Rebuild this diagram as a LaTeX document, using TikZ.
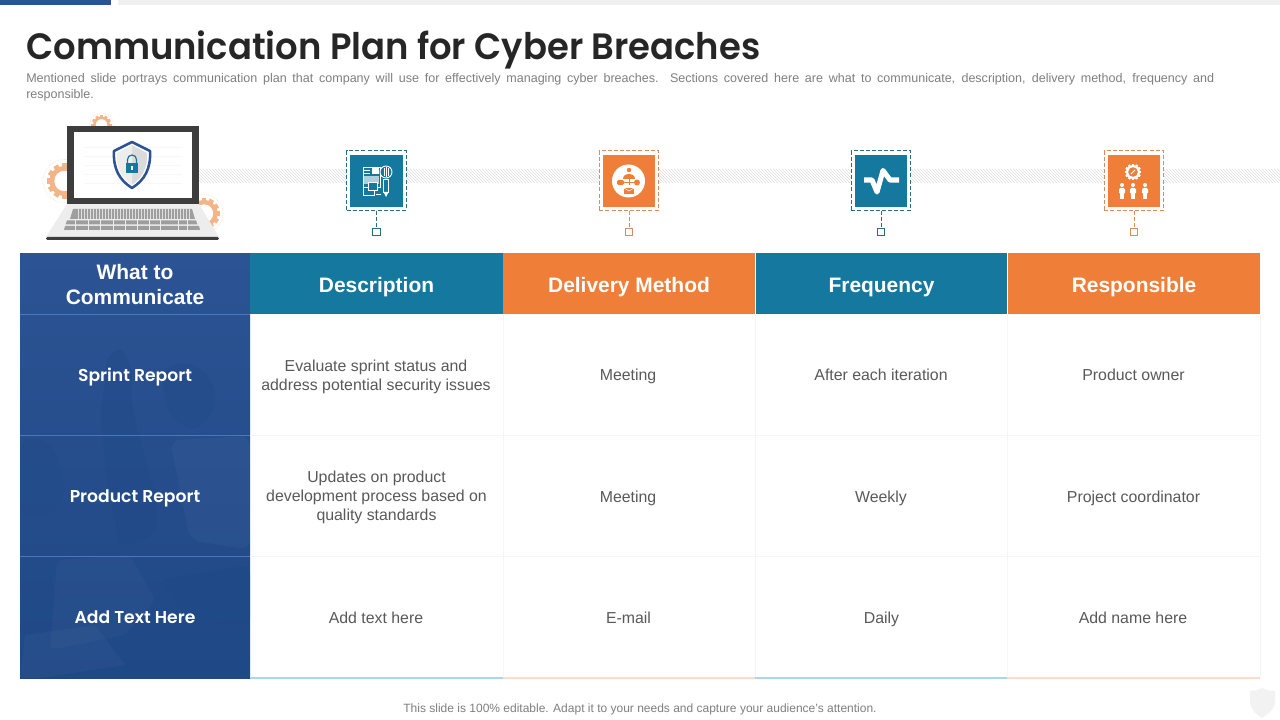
\documentclass[tikz,border=0pt]{standalone}
\usepackage{fontspec}
\setmainfont{Liberation Sans}
\newfontfamily\gothic[BoldFont={Poppins SemiBold}]{Poppins}
\newfontfamily\titlefont[BoldFont={Poppins SemiBold},BoldFeatures={FakeStretch=0.965}]{Poppins}
\usetikzlibrary{calc}
\definecolor{tealc}{HTML}{15789E}
\definecolor{orangec}{HTML}{EF7F38}
\definecolor{navyc}{HTML}{2C5393}
\definecolor{navyd}{HTML}{1F4886}
\definecolor{rulec}{HTML}{4A78BE}
\definecolor{gridc}{HTML}{F4F5F8}
\definecolor{bodyc}{HTML}{595959}
\definecolor{subc}{HTML}{7F7F7F}
\definecolor{hatchc}{HTML}{DCDCDC}
\definecolor{darkc}{HTML}{3D3D3D}
\definecolor{gearc}{HTML}{F3B488}
\definecolor{dashtc}{HTML}{2F6A85}
\definecolor{dashoc}{HTML}{D98C60}
\definecolor{lineb}{HTML}{A9D8EC}
\definecolor{lineo}{HTML}{FADCCB}
\tikzset{
  hdr/.style={text=white,font=\fontsize{15.7}{19}\selectfont\bfseries,minimum height=45.75pt,inner sep=0pt,align=center},
  hdrc/.style={hdr,text height=14pt,text depth=0pt},
  rowlab/.style={text=white,font=\gothic\fontsize{12.9}{16}\selectfont\bfseries,inner sep=0pt,anchor=base},
  cell/.style={text=bodyc,font=\fontsize{11.9}{14.2}\selectfont,align=center,inner sep=0pt},
  cellone/.style={cell,anchor=base},
  iconsq/.style={minimum size=39.5pt,inner sep=0pt},
  dashbox/.style={minimum size=44.5pt,inner sep=0pt,fill=white,dash pattern=on 3pt off 1.6pt,line width=.6pt},
  tinysq/.style={minimum size=5.6pt,inner sep=0pt,line width=.6pt,fill=white},
  stem/.style={dash pattern=on 3pt off 1.6pt,line width=.6pt},
  icl/.style={draw=white,line width=.7pt},
}
\newcommand{\gearshape}[4]{% x,y,radius,colour
  \foreach \a in {0,30,...,150}{
    \fill[#4,rotate around={\a:(#1,#2)}] ($(#1,#2)+(-#3*0.17,-#3*1.18)$) rectangle ($(#1,#2)+(#3*0.17,#3*1.18)$);
  }
  \fill[#4] (#1,#2) circle[radius=#3];
  \fill[white] (#1,#2) circle[radius=#3*0.68];
}
\begin{document}
\begin{tikzpicture}[x=0.75pt,y=-0.75pt]
\useasboundingbox (0,0) rectangle (1280,720);
\fill[white] (0,0) rectangle (1280,720);
% top bars
\fill[navyc] (0,0) rectangle (111,5);
\fill[black!6] (118,0) rectangle (1280,5);
% title and intro
\node[anchor=base west,inner sep=0pt,text=black!85!white,font=\titlefont\fontsize{27.5}{32}\selectfont\bfseries] (title) at (26,59.5) {Communication Plan for Cyber Breaches};
\node[anchor=north west,inner sep=0pt,text width=891pt,align=justify,text=subc,font=\fontsize{9.4}{12}\selectfont] (intro) at (26,73) {Mentioned slide portrays communication plan that company will use for effectively managing cyber breaches. Sections covered here are what to communicate, description, delivery method, frequency and\linebreak[4] responsible.};
% hatched band
\begin{scope}
\clip (199,169) rectangle (1280,183);
\foreach \x in {185,188,...,1280}{\draw[hatchc,line width=.35pt] (\x,169) -- (\x+14,183);}
\end{scope}
% laptop
\begin{scope}
\gearshape{101.5}{125}{8.5}{gearc}
\draw[gearc!70,densely dotted,line width=.4pt] (101.5,125) circle[radius=12];
\gearshape{64.5}{181}{15}{gearc}
\draw[gearc!70,densely dotted,line width=.4pt] (64.5,181) circle[radius=21.5];
\gearshape{204}{213.5}{13.5}{gearc}
\draw[gearc!70,densely dotted,line width=.4pt] (204,213.5) circle[radius=19];
\fill[black!7] (67,204) -- (199,204) -- (219,237) -- (46,237) -- cycle;
\fill[darkc] (67,126) rectangle (199,204);
\fill[white] (74,132) rectangle (192,198);
\foreach \yy in {147,156,165,174,183}{\draw[black!3,line width=.5pt] (84,\yy) -- (182,\yy);}
\fill[darkc,rounded corners=1pt] (46,237) rectangle (219,240);
\fill[black!38] (73,209) -- (192,209) -- (195,219) -- (70,219) -- cycle;
\fill[black!38] (67,220.5) -- (196,220.5) -- (197.5,224.5) -- (65.5,224.5) -- cycle;
\fill[black!38] (65,226) -- (199,226) -- (200,230) -- (64,230) -- cycle;
\foreach \x in {78,81,...,190}{\draw[black!12,line width=.25pt] (\x,209) -- (\x,219);}
\foreach \x in {75,88,100,113,125,137,149,160,178,187}{\draw[black!7,line width=.5pt] (\x,220.5) -- (\x,230);}
% shield
\fill[white] (132,142) -- (150,151) .. controls (151,168) and (145,180) .. (132,188) .. controls (119,180) and (113,168) .. (114,151) -- cycle;
\fill[black!14] (132,145) -- (147,153) .. controls (148,168) and (142,178) .. (132,185) -- cycle;
\fill[black!7] (132,145) -- (117,153) .. controls (116,168) and (122,178) .. (132,185) -- cycle;
\draw[navyc,line width=1.9pt,line join=round] (132,142) -- (150,151) .. controls (151,168) and (145,180) .. (132,188) .. controls (119,180) and (113,168) .. (114,151) -- cycle;
\draw[tealc,line width=.9pt] (127.5,164) -- (127.5,159.5) arc[start angle=180,end angle=360,radius=4.5] -- (136.5,164);
\fill[tealc] (126,163) rectangle (138,173);
\fill[white] (131,166) rectangle (133,170);
\end{scope}
% icon tiles
\foreach \nm/\cx/\bc/\dc in {a/376.5/tealc/dashtc,b/629/orangec/dashoc,c/881/tealc/dashtc,d/1134/orangec/dashoc}{
  \node[dashbox,draw=\dc] (box\nm) at (\cx,180.5) {};
  \node[iconsq,fill=\bc] (tile\nm) at (\cx,181) {};
  \node[tinysq,draw=\dc] (sq\nm) at (\cx,232) {};
  \draw[stem,draw=\dc] (box\nm) -- (sq\nm);
}
% icon a
\draw[icl] (363,167) rectangle (380,187);
\fill[white!65!tealc] (364,176) rectangle (379,184);
\fill[white] (372,168) rectangle (379,174);
\draw[icl] (364,170) -- (370,170) (364,173) -- (370,173);
\draw[icl,fill=tealc] (363,187) rectangle (374,195);
\draw[icl,fill=tealc] (368,182) rectangle (377,190);
\draw[icl] (376,194) -- (381,194);
\draw[icl,fill=tealc] (386,172) circle[radius=6];
\draw[icl] (384,168) -- (384,176) (386,167) -- (386,177) (388,168) -- (388,176);
\draw[icl] (383.5,179) rectangle (388.5,192);
\fill[white] (383.5,192) -- (388.5,192) -- (386,197) -- cycle;
% icon b
\fill[white] (628.5,181) circle[radius=16.5];
\fill[orangec] (629,170) circle[radius=2.2];
\fill[orangec] (623,179) .. controls (623,172) and (635,172) .. (635,179) -- cycle;
\draw[orangec,line width=.5pt] (629,179) -- (629,185) (622,182) -- (636,182);
\fill[orangec,rounded corners=1pt] (617,180) rectangle (624,185);
\fill[orangec] (637,182.5) circle[radius=3];
\fill[orangec] (624,188) rectangle (634,194);
\draw[white,line width=.4pt] (624,188) -- (629,191) -- (634,188);
% icon c
\draw[white,line width=3.8pt,line join=round] (864,180) -- (872,180) -- (877,192) -- (883,170.5) -- (890,180) -- (899,180);
% icon d
\gearshape{1133}{172}{7}{white}
\fill[orangec] (1133,172) circle[radius=4.8];
\draw[white,line width=.6pt] (1131,174) -- (1135,170);
\foreach \px in {1122,1133,1145}{
  \fill[white] (\px,185) circle[radius=2];
  \fill[white,rounded corners=1pt] (\px-3,188) rectangle (\px+3,194);
  \fill[white] (\px-2,194) rectangle (\px+2,199);
}
% first column with faded photograph
\begin{scope}
\clip (20,253) rectangle (250,678);
\shade[top color=navyc,bottom color=navyd] (20,253) rectangle (250,678);
\fill[navyd,opacity=.3,rounded corners=8pt] (108,352) .. controls (125,348) and (133,365) .. (131,400) -- (140,440) -- (157,500) -- (157,535) -- (118,548) -- (108,480) -- (100,420) -- cycle;
\fill[navyd,opacity=.25,rounded corners=8pt] (160,372) .. controls (190,355) and (218,375) .. (214,410) -- (196,432) -- (170,418) -- cycle;
\fill[navyd,opacity=.2,rounded corners=8pt] (20,440) .. controls (55,435) and (66,470) .. (60,510) -- (20,520) -- cycle;
\fill[white,opacity=.025,rounded corners=4pt] (57,560) -- (130,555) -- (155,600) -- (125,635) -- (50,650) -- cycle;
\fill[navyd,opacity=.35,rounded corners=5pt] (160,580) -- (250,565) -- (250,625) -- (190,620) -- cycle;
\fill[white,opacity=.03] (25,635) -- (95,625) -- (125,665) -- (40,678) -- (20,678) -- cycle;
\fill[white,opacity=.03,rounded corners=8pt] (170,440) -- (250,436) -- (250,550) -- (190,540) -- cycle;
\end{scope}
\draw[rulec,line width=.6pt] (20,314.5) -- (250,314.5) (20,435.5) -- (250,435.5) (20,556.5) -- (250,556.5);
% grid
\draw[gridc,line width=.75pt] (250,435.5) -- (1260,435.5) (250,556.5) -- (1260,556.5);
\draw[gridc,line width=.75pt] (503,314) -- (503,678) (755,314) -- (755,678) (1007.5,314) -- (1007.5,678) (1260,314) -- (1260,678);
\draw[lineb,line width=1.5pt] (250,678) -- (503,678) (755,678) -- (1007,678);
\draw[lineo,line width=1.5pt] (503,678) -- (755,678) (1007,678) -- (1260,678);
% header
\node[hdr,minimum width=172.5pt] (h0) at (135,284.5) {What to\\Communicate};
\node[hdrc,fill=tealc,minimum width=189.2pt] (h1) at (376.5,283.5) {Description};
\node[hdrc,fill=orangec,minimum width=188.5pt] (h2) at (629,283.5) {Delivery Method};
\node[hdrc,fill=tealc,minimum width=188.5pt] (h3) at (881.5,283.5) {Frequency};
\node[hdrc,fill=orangec,minimum width=189pt] (h4) at (1134,283.5) {Responsible};
% row labels
\node[rowlab] (r1) at (135,381) {Sprint Report};
\node[rowlab] (r2) at (135,502) {Product Report};
\node[rowlab] (r3) at (135,623) {Add Text Here};
% cells
\node[cell] (c11) at (376,376.5) {Evaluate sprint status and\\address potential security issues};
\node[cellone] (c12) at (628,380) {Meeting};
\node[cellone] (c13) at (881,380) {After each iteration};
\node[cellone] (c14) at (1133.5,380) {Product owner};
\node[cell] (c21) at (376.5,497) {Updates on product\\development process based on\\quality standards};
\node[cellone] (c22) at (628,502) {Meeting};
\node[cellone] (c23) at (881,502) {Weekly};
\node[cellone] (c24) at (1133.5,502) {Project coordinator};
\node[cellone] (c31) at (376,623) {Add text here};
\node[cellone] (c32) at (628.5,623) {E-mail};
\node[cellone] (c33) at (881.5,623) {Daily};
\node[cellone] (c34) at (1133,623) {Add name here};
% footer
\node[inner sep=0pt,text=subc,font=\fontsize{9}{11}\selectfont] (foot) at (640,709.5) {This slide is 100\% editable. Adapt it to your needs and capture your audience's attention.};
\fill[black!5] (1262,688) .. controls (1256,691) and (1253,691) .. (1250,691) -- (1250,702) .. controls (1251,710) and (1256,714) .. (1262,718) .. controls (1268,714) and (1274,710) .. (1275,702) -- (1275,691) .. controls (1271,691) and (1268,691) .. (1262,688) -- cycle;
\end{tikzpicture}
\end{document}
